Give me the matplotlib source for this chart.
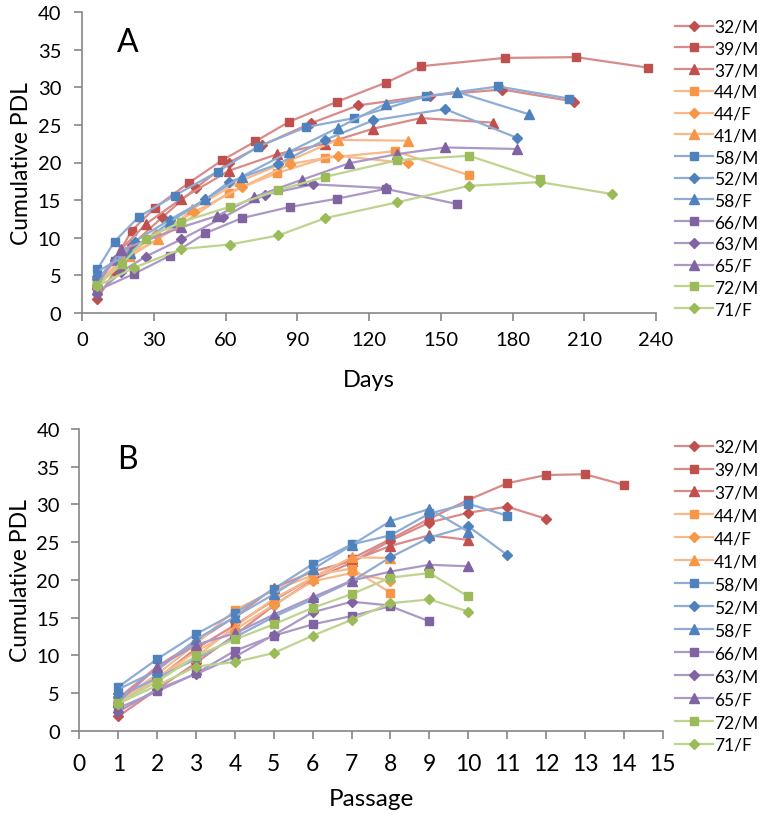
import matplotlib
matplotlib.use("Agg")
import matplotlib.pyplot as plt
from matplotlib.lines import Line2D

plt.rcParams['font.family'] = ['Lato', 'DejaVu Sans']

labels = ["32/M", "39/M", "37/M", "44/M", "44/F", "41/M", "58/M", "52/M",
          "58/F", "66/M", "63/M", "65/F", "72/M", "71/F"]

days_32M = [6.4, 13.6, 20.7, 33.5, 47.5, 61.4, 75.3, 95.6, 115.6, 145.5, 175.7, 205.8]
pdl_32M = [1.9, 5.5, 9.0, 12.7, 16.6, 20.0, 22.3, 25.2, 27.6, 28.9, 29.7, 28.1]
days_39M = [6.4, 13.6, 20.7, 30.5, 44.7, 58.6, 72.5, 86.5, 106.8, 127.0, 141.9, 176.8, 206.6, 236.8]
pdl_39M = [4.2, 6.9, 10.9, 14.0, 17.3, 20.3, 22.8, 25.4, 28.1, 30.6, 32.8, 33.9, 34.0, 32.6]
days_37M = [6.4, 16.5, 26.6, 41.2, 61.4, 81.6, 101.6, 121.8, 141.7, 171.7]
pdl_37M = [4.3, 8.5, 11.8, 15.1, 18.9, 21.1, 22.5, 24.5, 25.9, 25.3]
days_44M = [6.4, 20.0, 40.0, 61.4, 81.6, 101.6, 131.0, 161.8]
pdl_44M = [3.9, 7.5, 11.5, 16.0, 18.6, 20.6, 21.5, 18.3]
days_44F = [6.4, 16.5, 31.0, 46.8, 66.7, 87.0, 106.9, 136.4]
pdl_44F = [3.5, 7.0, 10.5, 13.4, 16.7, 19.8, 20.9, 19.9]
days_41M = [6.4, 16.5, 31.9, 46.0, 66.0, 87.0, 106.9, 136.4]
pdl_41M = [3.8, 7.2, 9.8, 13.8, 17.5, 20.3, 23.0, 22.9]
days_58M = [6.4, 13.6, 23.8, 38.7, 56.8, 73.6, 93.7, 113.7, 143.8, 174.0, 203.7]
pdl_58M = [5.8, 9.5, 12.8, 15.6, 18.8, 22.1, 24.7, 25.9, 28.8, 30.1, 28.5]
days_52M = [6.4, 14.0, 22.0, 36.7, 51.6, 61.4, 82.0, 101.6, 121.8, 151.8, 181.7]
pdl_52M = [4.5, 7.0, 9.5, 12.4, 15.1, 17.4, 19.8, 23.0, 25.6, 27.1, 23.3]
days_58F = [6.4, 20.0, 36.7, 51.6, 66.7, 86.5, 107.0, 127.0, 156.6, 187.0]
pdl_58F = [5.5, 8.0, 12.1, 15.1, 18.1, 21.4, 24.6, 27.8, 29.4, 26.4]
days_66M = [6.4, 21.7, 36.7, 51.6, 66.7, 87.0, 106.8, 127.0, 156.6]
pdl_66M = [3.0, 5.2, 7.6, 10.6, 12.6, 14.1, 15.2, 16.5, 14.5]
days_63M = [6.4, 16.5, 26.6, 41.6, 59.0, 76.4, 96.5, 127.0]
pdl_63M = [2.5, 5.5, 7.5, 9.8, 12.7, 15.7, 17.1, 16.6]
days_65F = [6.4, 16.5, 41.6, 56.5, 71.8, 91.9, 111.7, 131.6, 151.8, 181.7]
pdl_65F = [3.8, 8.4, 11.4, 12.9, 15.4, 17.7, 19.9, 21.1, 22.0, 21.8]
days_72M = [6.4, 16.8, 26.6, 41.5, 61.7, 82.0, 101.6, 131.9, 161.8, 191.4]
pdl_72M = [3.7, 6.5, 9.9, 12.1, 14.1, 16.3, 18.1, 20.3, 20.9, 17.8]
days_71F = [6.4, 21.7, 41.5, 61.7, 82.0, 101.6, 131.6, 161.8, 191.4, 221.8]
pdl_71F = [3.6, 6.0, 8.5, 9.1, 10.3, 12.6, 14.7, 16.9, 17.4, 15.8]

days_all = [days_32M, days_39M, days_37M, days_44M, days_44F, days_41M, days_58M,
            days_52M, days_58F, days_66M, days_63M, days_65F, days_72M, days_71F]
pdl_all = [pdl_32M, pdl_39M, pdl_37M, pdl_44M, pdl_44F, pdl_41M, pdl_58M,
           pdl_52M, pdl_58F, pdl_66M, pdl_63M, pdl_65F, pdl_72M, pdl_71F]

day_ticks = list(range(0, 241, 30))
passage_ticks = list(range(0, 16))
y_ticks = list(range(0, 41, 5))

fam_marker = ["#C0504D", "#F79646", "#4F81BD", "#8064A2", "#9BBB59"]
fam_line = ["#D98B89", "#F9B98A", "#8DADD6", "#AC98C6", "#BDD48E"]
families = [0, 0, 0, 1, 1, 1, 2, 2, 2, 3, 3, 3, 4, 4]
markers = ["D", "s", "^", "s", "D", "^", "s", "D", "^", "s", "D", "^", "s", "D"]
msizes = {"D": 5.5, "s": 6.0, "^": 7.0}

fig = plt.figure(figsize=(7.62, 8.2), dpi=100)
axA = fig.add_axes([82/762, 1 - 314/820, 574/762, 301/820])
axB = fig.add_axes([79.4/762, 1 - 731.7/820, 583.3/762, 301.7/820])

spine_c = "#868686"


def style(ax, xlim, xticks, xfs, xpad, ypad):
    ax.set_ylim(0, 40)
    ax.set_xlim(*xlim)
    ax.set_yticks(y_ticks)
    ax.set_xticks(xticks)
    for s in ["top", "right"]:
        ax.spines[s].set_visible(False)
    for s in ["left", "bottom"]:
        ax.spines[s].set_color(spine_c)
        ax.spines[s].set_linewidth(1.2)
    ax.tick_params(axis="both", direction="out", length=6, width=1.2, color=spine_c)
    ax.tick_params(axis="y", labelsize=14.5, pad=ypad)
    ax.tick_params(axis="x", labelsize=xfs, pad=xpad)
    ax.set_ylabel("Cumulative PDL", fontsize=16.5, labelpad=4)


style(axA, (0, 240), day_ticks, 14.5, 7, 9)
style(axB, (0, 15), passage_ticks, 16.5, 10, 8)
axA.set_xlabel("Days", fontsize=17, labelpad=15)
axB.set_xlabel("Passage", fontsize=17.5, labelpad=10)

handles = []
for i, lab in enumerate(labels):
    fam = families[i]
    mk = markers[i]
    kw = dict(color=fam_line[fam], lw=1.6, marker=mk, ms=msizes[mk],
              mfc=fam_marker[fam], mec=fam_marker[fam])
    axA.plot(days_all[i], pdl_all[i], **kw)
    passages = list(range(1, len(pdl_all[i]) + 1))
    axB.plot(passages, pdl_all[i], **kw)
    handles.append(Line2D([], [], label=lab, **kw))

axA.text(0.061, 0.9, "A", transform=axA.transAxes, fontsize=23, va="center")
axB.text(0.065, 0.9, "B", transform=axB.transAxes, fontsize=23, va="center")

for yt, sp in [(0.976, 0.33), (0.4638, 0.40)]:
    fig.legend(handles=handles, loc="upper left", bbox_to_anchor=(0.886, yt),
               frameon=False, fontsize=12.5, handlelength=2.2, handletextpad=0.05,
               labelspacing=sp, borderpad=0, borderaxespad=0)

fig.savefig("out.png", dpi=100)
